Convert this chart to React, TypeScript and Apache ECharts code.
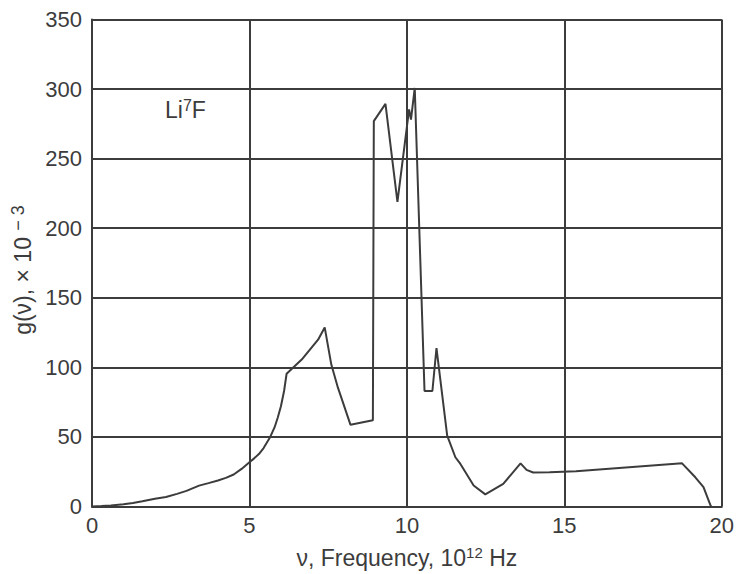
import React, { useEffect, useRef } from "react";
import * as echarts from "echarts";

const freq = [0, 0.3, 0.6, 1.0, 1.3, 1.6, 2.0, 2.35, 2.7, 3.0, 3.4, 3.7, 4.0, 4.25, 4.5, 4.75, 5.0, 5.15, 5.3, 5.45, 5.66, 5.8, 5.9, 6.0, 6.1, 6.18, 6.66, 7.18, 7.39, 7.6, 7.81, 8.21, 8.92, 8.95, 9.32, 9.7, 10.07, 10.13, 10.25, 10.56, 10.81, 10.94, 11.28, 11.54, 11.7, 12.12, 12.49, 13.06, 13.61, 13.8, 14.01, 14.53, 15.37, 18.74, 19.16, 19.42, 19.63, 19.66];
const g = [0, 0.3, 0.8, 1.6, 2.5, 3.7, 5.5, 6.8, 9.1, 11.2, 15, 16.8, 18.7, 20.6, 23, 27, 31.8, 34.6, 37.7, 42, 50, 57, 64, 72, 83, 95.4, 105.6, 119.9, 128.7, 102, 85.4, 58.7, 62, 277, 289.4, 219, 285.4, 278, 300.8, 83, 83, 113.9, 50.9, 35.4, 30.6, 15.1, 8.7, 16.3, 31, 26.3, 24.4, 24.6, 25.4, 31, 21, 13.9, 1.5, 0];
const yTicks = [0, 50, 100, 150, 200, 250, 300, 350];
const xTicks = [0, 5, 10, 15, 20];
const label = "Li7F";

const INK = "#3c3c3c";
const FONT = "Liberation Sans, Arial, sans-serif";

export default function App() {
  const ref = useRef<HTMLDivElement>(null);
  useEffect(() => {
    if (!ref.current) return;
    const chart = echarts.init(ref.current, undefined, { renderer: "svg" });
    chart.setOption({
      animation: false,
      backgroundColor: "#ffffff",
      grid: { left: 92, right: 10, top: 19.5, bottom: 64.5, containLabel: false },
      xAxis: {
        type: "value",
        min: xTicks[0],
        max: xTicks[xTicks.length - 1],
        interval: 5,
        name: "{a|ν, Frequency, 10}{s|12}{a| Hz}",
        nameLocation: "middle",
        nameGap: 38,
        nameTextStyle: {
          rich: {
            a: { fontSize: 23, fontFamily: FONT, color: INK },
            s: { fontSize: 15, fontFamily: FONT, color: INK, padding: [0, 0, 11, 0] },
          },
        },
        axisLine: { show: true, lineStyle: { color: INK, width: 2 } },
        axisTick: { show: false },
        axisLabel: { fontSize: 22, fontFamily: FONT, color: INK, margin: 8 },
        splitLine: { show: true, lineStyle: { color: INK, width: 2 } },
      },
      yAxis: {
        type: "value",
        min: yTicks[0],
        max: yTicks[yTicks.length - 1],
        interval: 50,
        name: "{a|g(ν), × 10 }{s|− 3}",
        nameLocation: "middle",
        nameRotate: 90,
        nameGap: 55,
        nameTextStyle: {
          padding: [0, 14, 0, 0],
          rich: {
            a: { fontSize: 23, fontFamily: FONT, color: INK },
            s: { fontSize: 18, fontFamily: FONT, color: INK, padding: [0, 0, 10, 0] },
          },
        },
        axisLine: { show: true, lineStyle: { color: INK, width: 2 } },
        axisTick: { show: false },
        axisLabel: { fontSize: 22, fontFamily: FONT, color: INK, margin: 10 },
        splitLine: { show: true, lineStyle: { color: INK, width: 2 } },
      },
      graphic: [
        {
          type: "text",
          left: 165,
          top: 97,
          style: {
            text: "{a|Li}{s|7}{a|F}",
            rich: {
              a: { fontSize: 23, fontFamily: FONT, fill: INK },
              s: { fontSize: 16, fontFamily: FONT, fill: INK, padding: [0, 0, 9, 0] },
            },
          },
        },
      ],
      series: [
        {
          type: "line",
          name: label,
          data: freq.map((f, i) => [f, g[i]]),
          showSymbol: false,
          smooth: false,
          lineStyle: { color: INK, width: 2 },
        },
      ],
    });
    return () => chart.dispose();
  }, []);
  return <div ref={ref} style={{ position: "absolute", left: 0, top: 0, width: 737, height: 574 }} />;
}
